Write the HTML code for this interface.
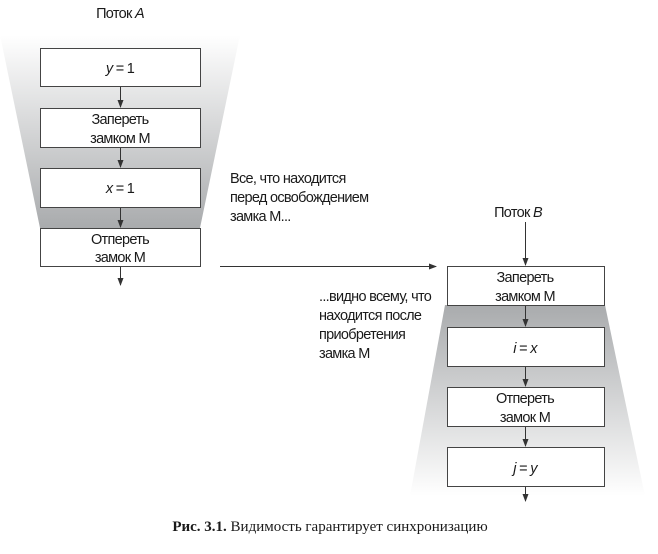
<!DOCTYPE html>
<html><head><meta charset="utf-8"><style>
html,body{margin:0;padding:0;background:#fff;}
svg{display:block}
text{font-family:"Liberation Sans",sans-serif;font-size:14.5px;fill:#1a1a1a;letter-spacing:-0.7px}
</style></head><body>
<svg width="658" height="554" viewBox="0 0 658 554" xmlns="http://www.w3.org/2000/svg">
<defs>
<linearGradient id="ga" x1="0" y1="0" x2="0" y2="1">
<stop offset="0" stop-color="#fff"/><stop offset="1" stop-color="#a9abad"/></linearGradient>
<linearGradient id="gb" x1="0" y1="0" x2="0" y2="1">
<stop offset="0" stop-color="#a9abad"/><stop offset="1" stop-color="#fff"/></linearGradient>
<marker id="ar" markerWidth="8" markerHeight="6" refX="7" refY="3" orient="auto" markerUnits="userSpaceOnUse">
<path d="M0,0 L8,3 L0,6 z" fill="#333"/></marker>
</defs>
<polygon points="0,35 240,35 200,228 40,228" fill="url(#ga)"/>
<polygon points="445,305 605,305 645,496 410,496" fill="url(#gb)"/>
<g fill="#fff" stroke="#444" stroke-width="1">
<rect x="40.5" y="48.5" width="160" height="38"/>
<rect x="40.5" y="108.5" width="160" height="39"/>
<rect x="40.5" y="168.5" width="160" height="39"/>
<rect x="40.5" y="228.5" width="160" height="38"/>
<rect x="447.5" y="266.5" width="157" height="39"/>
<rect x="447.5" y="327.5" width="157" height="39"/>
<rect x="447.5" y="387.5" width="157" height="39"/>
<rect x="447.5" y="447.5" width="157" height="39"/>
</g>
<g stroke="#333" stroke-width="1" marker-end="url(#ar)">
<line x1="120.5" y1="87" x2="120.5" y2="107"/>
<line x1="120.5" y1="148" x2="120.5" y2="167"/>
<line x1="120.5" y1="208" x2="120.5" y2="227"/>
<line x1="120.5" y1="267" x2="120.5" y2="285"/>
<line x1="525.5" y1="222" x2="525.5" y2="265"/>
<line x1="525.5" y1="306" x2="525.5" y2="326"/>
<line x1="525.5" y1="367" x2="525.5" y2="386"/>
<line x1="525.5" y1="427" x2="525.5" y2="446"/>
<line x1="525.5" y1="487" x2="525.5" y2="501"/>
<line x1="220" y1="266.5" x2="436" y2="266.5"/>
</g>
<g text-anchor="middle">
<text x="120" y="18">Поток <tspan font-style="italic">A</tspan></text>
<text x="120" y="73"><tspan font-style="italic">y</tspan> = 1</text>
<text x="120" y="124">Запереть</text>
<text x="120" y="143">замком М</text>
<text x="120" y="193"><tspan font-style="italic">x</tspan> = 1</text>
<text x="120" y="244">Отпереть</text>
<text x="120" y="262">замок М</text>
<text x="518" y="217">Поток <tspan font-style="italic">B</tspan></text>
<text x="525" y="282">Запереть</text>
<text x="525" y="301">замком М</text>
<text x="525" y="353"><tspan font-style="italic">i</tspan> = <tspan font-style="italic">x</tspan></text>
<text x="525" y="403">Отпереть</text>
<text x="525" y="422">замок М</text>
<text x="525" y="473"><tspan font-style="italic">j</tspan> = <tspan font-style="italic">y</tspan></text>
</g>
<text x="230" y="183">Все, что находится</text>
<text x="230" y="202">перед освобождением</text>
<text x="230" y="221">замка М...</text>
<text x="319" y="301">...видно всему, что</text>
<text x="319" y="320">находится после</text>
<text x="319" y="339">приобретения</text>
<text x="319" y="358">замка М</text>
<text x="330" y="531" text-anchor="middle" style="font-family:'Liberation Serif',serif;font-size:15px;letter-spacing:0"><tspan font-weight="bold">Рис. 3.1.</tspan> Видимость гарантирует синхронизацию</text>
</svg>
</body></html>
